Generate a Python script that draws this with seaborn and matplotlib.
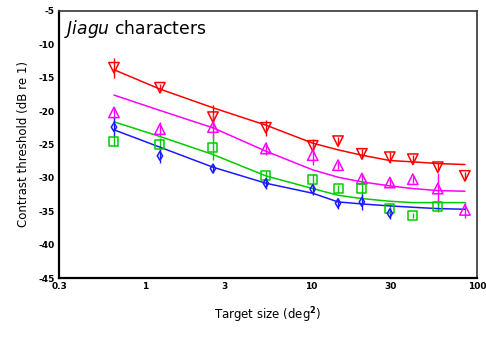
import numpy as np
import pandas as pd
import matplotlib
matplotlib.use("Agg")
import matplotlib.pyplot as plt
import seaborn as sns
from matplotlib.ticker import FixedLocator, NullFormatter, FixedFormatter

# ---- data ----
x_sizes = [0.644, 1.22, 2.55, 5.32, 10.2, 14.5, 20.2, 29.8, 41.0, 58.0, 84.6]

red_y = [-13.5, -16.5, -20.9, -22.5, -25.2, -24.5, -26.4, -26.9, -27.2, -28.4, -29.7]
red_err = [1.5, 0.6, 1.8, 1.2, 1.0, 0.6, 0.8, 0.8, 0.7, 0.6, 0.6]
red_fit = [-13.8, -16.7, -19.5, -22.1, -24.8, -25.8, -26.6, -27.4, -27.6, -27.85, -28.0]

mag_y = [-20.2, -22.7, -22.4, -25.6, -26.6, -28.1, -30.1, -30.7, -30.2, -31.6, -34.8]
mag_err = [0.8, 1.0, 1.8, 1.0, 1.5, 0.5, 0.8, 0.5, 0.5, 2.4, 1.2]
mag_fit = [-17.6, -19.9, -22.5, -26.0, -28.8, -29.9, -30.6, -31.2, -31.6, -31.9, -32.0]

grn_x = x_sizes[:10]
grn_y = [-24.6, -25.0, -25.4, -29.7, -30.2, -31.6, -31.6, -34.6, -35.6, -34.3]
grn_err = [0.7, 1.0, 1.9, 0.8, 0.8, 0.6, 1.3, 0.7, 0.4, 0.8]
grn_fit = [-21.6, -23.8, -26.5, -29.7, -31.6, -32.6, -33.1, -33.5, -33.7, -33.7, -33.7]

blu_x = x_sizes[:8]
blu_y = [-22.4, -26.7, -28.6, -30.8, -31.7, -33.8, -33.6, -35.3]
blu_err = [1.5, 1.0, 0.6, 0.8, 0.8, 0.8, 1.2, 0.8]
blu_fit = [-22.8, -25.4, -28.4, -30.8, -32.3, -33.6, -33.9, -34.2, -34.4, -34.6, -34.7]

x_ticks = [0.3, 1, 3, 10, 30, 100]
x_ticklabels = ["0.3", "1", "3", "10", "30", "100"]
y_ticks = [-5, -10, -15, -20, -25, -30, -35, -40, -45]

RED = "#ff0000"
MAG = "#ff00ff"
GRN = "#00cc00"
BLU = "#1a1aff"

sns.set_theme(style="white")
plt.rcParams["font.family"] = ["DejaVu Sans"]
plt.rcParams["text.color"] = "black"
plt.rcParams["axes.labelcolor"] = "black"
plt.rcParams["mathtext.fontset"] = "dejavusans"

fig = plt.figure(figsize=(4.86, 3.42), dpi=100)
ax = fig.add_axes([0.1214, 0.187, 0.86, 0.781])

series = [
    (x_sizes, red_y, red_err, red_fit, RED, "v", 7.5),
    (x_sizes, mag_y, mag_err, mag_fit, MAG, "^", 7.5),
    (grn_x, grn_y, grn_err, grn_fit, GRN, "s", 6.5),
    (blu_x, blu_y, blu_err, blu_fit, BLU, "d", 4.5),
]

for xs, ys, es, fit, col, mk, ms in series:
    fit_df = pd.DataFrame({"x": x_sizes, "y": fit})
    sns.lineplot(data=fit_df, x="x", y="y", ax=ax, color=col, lw=1.1,
                 estimator=None, sort=False)
    ax.errorbar(xs, ys, yerr=es, fmt="none", ecolor=col, elinewidth=1.0, capsize=0)
    pts = pd.DataFrame({"x": xs, "y": ys})
    sns.scatterplot(data=pts, x="x", y="y", ax=ax, marker=mk, s=ms ** 2,
                    facecolors="none", edgecolor=col, linewidth=1.1, zorder=5)

ax.set_xscale("log")
ax.set_xlim(0.3, 100)
ax.set_ylim(-45, -5)

ax.xaxis.set_major_locator(FixedLocator(x_ticks))
ax.xaxis.set_major_formatter(FixedFormatter(x_ticklabels))
minor = [v * m for v in [0.1, 1, 10] for m in range(2, 10)]
minor = [v for v in minor if 0.3 < v < 100 and v not in (3, 30)]
ax.xaxis.set_minor_locator(FixedLocator(minor))
ax.xaxis.set_minor_formatter(NullFormatter())

ax.yaxis.set_major_locator(FixedLocator(y_ticks))
ax.yaxis.set_minor_locator(FixedLocator([v - 2.5 for v in y_ticks[:-1]]))
ax.set_yticklabels([str(v) for v in y_ticks])

ax.tick_params(axis="both", which="major", direction="in", length=4, width=1.2,
               labelsize=6.5, colors="black", pad=3)
ax.tick_params(axis="both", which="minor", direction="in", length=2.5, width=1.0,
               colors="black")
for lab in ax.get_xticklabels() + ax.get_yticklabels():
    lab.set_fontweight("bold")

for side in ["left", "bottom"]:
    ax.spines[side].set_color("black")
    ax.spines[side].set_linewidth(1.6)
for side in ["top", "right"]:
    ax.spines[side].set_color("#333333")
    ax.spines[side].set_linewidth(1.2)

ax.set_xlabel("Target size (deg$^{\\mathbf{2}}$)", fontsize=8.5, labelpad=10)
ax.set_ylabel("Contrast threshold (dB re 1)", fontsize=8.5, labelpad=6)

ax.text(0.013, 0.915, r"$\mathit{Jiagu}$ characters", transform=ax.transAxes,
        fontsize=12.3, va="baseline", ha="left")

fig.savefig("out.png", dpi=100)
